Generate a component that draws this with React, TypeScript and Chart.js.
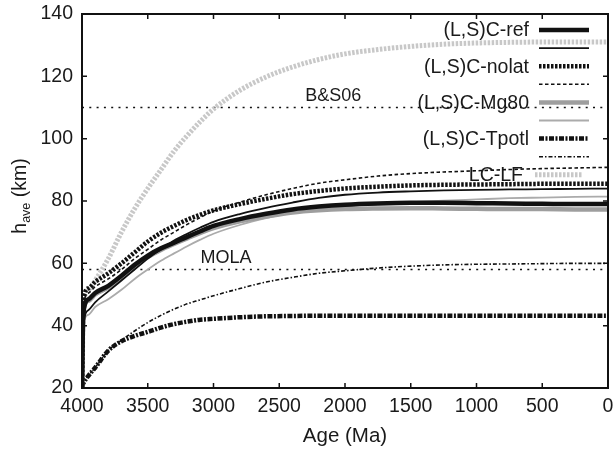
import React, { useEffect, useRef } from "react";
import { Chart, registerables } from "chart.js";
Chart.register(...registerables);

const FONT = '"Liberation Sans", Arial, Helvetica, sans-serif';

const ages = [4000, 3990, 3950, 3900, 3800, 3700, 3600, 3500, 3400, 3300, 3200, 3100, 3000, 2800, 2600, 2400, 2200, 2000, 1750, 1500, 1250, 1000, 750, 500, 250, 0];

const refThick = [20, 44, 48.5, 50.5, 52.8, 56, 59.5, 62.5, 64.8, 66.6, 68.5, 70.3, 72, 74.2, 75.9, 77.3, 78.2, 78.8, 79.2, 79.4, 79.4, 79.3, 79.2, 79.1, 79, 79];
const refThin = [20, 40, 45, 47.5, 51, 54.5, 58, 61.5, 64.5, 67.3, 69.5, 71.5, 73.3, 75.8, 77.8, 79.5, 81, 82, 82.7, 83.1, 83.4, 83.6, 83.7, 83.8, 83.9, 84];
const nolatThick = [20, 48, 52, 54, 56.8, 60, 63.5, 67, 69.8, 72, 74, 75.6, 77, 79, 80.7, 82.2, 83.2, 84, 84.6, 85, 85.2, 85.3, 85.4, 85.5, 85.5, 85.5];
const nolatThin = [20, 46, 50.5, 52.5, 55, 58, 61.5, 64.5, 67.5, 70, 72.5, 74.7, 76.8, 79.6, 82, 84, 85.7, 86.8, 88, 88.8, 89.3, 89.7, 90.1, 90.4, 90.6, 90.8];
const mg80Thick = [20, 45, 48, 50, 52.3, 55.5, 59, 62, 64.3, 66.2, 68, 69.8, 71.3, 73.5, 75, 76.3, 77, 77.4, 77.6, 77.7, 77.6, 77.5, 77.4, 77.4, 77.3, 77.3];
const mg80Thin = [20, 40, 43.5, 46, 48.5, 51.5, 55, 58, 60.8, 63.2, 65.5, 67.6, 69.5, 72.3, 74.5, 76.3, 77.5, 78.3, 79, 79.6, 80.1, 80.5, 80.9, 81.1, 81.3, 81.4];
const tpotlThick = [20.5, 21.5, 24, 26.5, 32, 35, 36.7, 38, 39.4, 40.5, 41.3, 41.9, 42.2, 42.7, 43, 43.1, 43.2, 43.2, 43.2, 43.2, 43.2, 43.2, 43.2, 43.2, 43.2, 43.2];
const tpotlThin = [20.5, 21.5, 24, 26.5, 32, 35.3, 38.3, 41, 43.3, 45.3, 47, 48.3, 49.6, 51.9, 54, 55.5, 56.8, 57.6, 58.5, 59.1, 59.5, 59.7, 59.8, 59.9, 60, 60];
const lcLf = [20, 46, 51.5, 54.5, 61.5, 70, 77.5, 84, 90, 96, 101, 105.5, 109.5, 115.5, 119.8, 123, 125.4, 127.2, 128.6, 129.6, 130.3, 130.7, 130.9, 131, 131, 131];

const refLineAges = [4000, 0];
const bs06 = [110, 110];
const mola = [58, 58];

const xTickValues = [4000, 3500, 3000, 2500, 2000, 1500, 1000, 500, 0];
const yTickValues = [20, 40, 60, 80, 100, 120, 140];

const legendLabels = ["(L,S)C-ref", "", "(L,S)C-nolat", "", "(L,S)C-Mg80", "", "(L,S)C-Tpotl", "", "LC-LF"];
const refLineLabels = ["B&S06", "MOLA"];
const refLineLabelPos = [
  { age: 2090, h: 113.7 },
  { age: 2905, h: 61.6 },
];

const pts = (xs: number[], ys: number[]) => xs.map((x, i) => ({ x, y: ys[i] }));

const seriesDefs = [
  { data: refThick, color: "#111111", width: 4.5, dash: [] as number[] },
  { data: refThin, color: "#111111", width: 1.8, dash: [] as number[] },
  { data: nolatThick, color: "#111111", width: 4.5, dash: [2.5, 1.5] },
  { data: nolatThin, color: "#111111", width: 1.6, dash: [3.5, 2.5] },
  { data: mg80Thick, color: "#9e9e9e", width: 4.5, dash: [] as number[] },
  { data: mg80Thin, color: "#ababab", width: 1.8, dash: [] as number[] },
  { data: tpotlThick, color: "#111111", width: 4.5, dash: [5, 1.5, 2, 1.5] },
  { data: tpotlThin, color: "#111111", width: 1.6, dash: [4, 2, 1.5, 2] },
  { data: lcLf, color: "#c8c8c8", width: 5, dash: [2.5, 1.5] },
];

const overlay = {
  id: "overlay",
  afterDatasetsDraw(chart: any) {
    const { ctx, chartArea: a, scales } = chart;
    const x = scales.x;
    const y = scales.y;
    ctx.save();
    ctx.strokeStyle = "#111";
    ctx.lineWidth = 1.5;
    ctx.setLineDash([]);
    const tl = 5;
    ctx.beginPath();
    for (const v of xTickValues) {
      const px = x.getPixelForValue(v);
      if (Math.abs(px - a.left) < 2 || Math.abs(px - a.right) < 2) continue;
      ctx.moveTo(px, a.bottom);
      ctx.lineTo(px, a.bottom - tl);
      ctx.moveTo(px, a.top);
      ctx.lineTo(px, a.top + tl);
    }
    for (const v of yTickValues) {
      const py = y.getPixelForValue(v);
      if (Math.abs(py - a.top) < 2 || Math.abs(py - a.bottom) < 2) continue;
      ctx.moveTo(a.left, py);
      ctx.lineTo(a.left + tl, py);
      ctx.moveTo(a.right, py);
      ctx.lineTo(a.right - tl, py);
    }
    ctx.stroke();
    ctx.lineWidth = 2;
    ctx.strokeRect(a.left, a.top, a.right - a.left, a.bottom - a.top);

    // reference line labels
    ctx.fillStyle = "#1a1a1a";
    ctx.font = `18px ${FONT}`;
    ctx.textAlign = "center";
    ctx.textBaseline = "middle";
    refLineLabels.forEach((t, i) => {
      const p = refLineLabelPos[i];
      ctx.fillText(t, x.getPixelForValue(p.age), y.getPixelForValue(p.h));
    });

    // legend
    ctx.font = `19.5px ${FONT}`;
    const rowY0 = a.top + 16;
    const rowStep = 18.1;
    legendLabels.forEach((label, i) => {
      const ds = chart.data.datasets[i];
      const last = i === legendLabels.length - 1;
      const textRight = last ? a.right - 85 : a.right - 79;
      const x1 = last ? a.right - 73 : a.right - 69;
      const x2 = last ? a.right - 25 : a.right - 19;
      const ry = rowY0 + i * rowStep;
      ctx.save();
      ctx.strokeStyle = ds.borderColor;
      ctx.lineWidth = ds.borderWidth;
      ctx.setLineDash(ds.borderDash || []);
      ctx.beginPath();
      ctx.moveTo(x1, ry);
      ctx.lineTo(x2, ry);
      ctx.stroke();
      ctx.restore();
      if (label) {
        ctx.textAlign = "right";
        ctx.fillText(label, textRight, ry + 1);
      }
    });

    // axis titles
    ctx.textAlign = "center";
    ctx.font = `20.5px ${FONT}`;
    ctx.fillText("Age (Ma)", (a.left + a.right) / 2, 436);

    ctx.save();
    ctx.translate(0, 196);
    ctx.rotate(-Math.PI / 2);
    ctx.textAlign = "left";
    ctx.textBaseline = "alphabetic";
    const mainF = `19.5px ${FONT}`;
    const subF = `12.5px ${FONT}`;
    ctx.font = mainF;
    const wH = ctx.measureText("h").width;
    const wK = ctx.measureText(" (km)").width;
    ctx.font = subF;
    const wS = ctx.measureText("ave").width;
    const total = wH + wS + wK;
    let cx = -total / 2;
    ctx.font = mainF;
    ctx.fillText("h", cx, 26);
    cx += wH;
    ctx.font = subF;
    ctx.fillText("ave", cx, 30);
    cx += wS;
    ctx.font = mainF;
    ctx.fillText(" (km)", cx, 26);
    ctx.restore();

    ctx.restore();
  },
};

export default function App() {
  const ref = useRef<HTMLCanvasElement | null>(null);
  useEffect(() => {
    if (!ref.current) return;
    const datasets: any[] = seriesDefs.map((s, i) => ({
      label: legendLabels[i] || `s${i}`,
      data: pts(ages, s.data),
      borderColor: s.color,
      backgroundColor: s.color,
      borderWidth: s.width,
      borderDash: s.dash,
      borderCapStyle: "butt",
      pointRadius: 0,
      cubicInterpolationMode: "monotone",
      fill: false,
    }));
    datasets.push({
      label: refLineLabels[0],
      data: pts(refLineAges, bs06),
      borderColor: "#111",
      borderWidth: 1.6,
      borderDash: [2, 5.3],
      pointRadius: 0,
      fill: false,
    });
    datasets.push({
      label: refLineLabels[1],
      data: pts(refLineAges, mola),
      borderColor: "#111",
      borderWidth: 1.6,
      borderDash: [2, 5.3],
      pointRadius: 0,
      fill: false,
    });
    const chart = new Chart(ref.current, {
      type: "line",
      data: { datasets },
      plugins: [overlay],
      options: {
        animation: false,
        responsive: false,
        layout: { padding: { top: 14, right: 6, left: 0, bottom: 0 } },
        plugins: { legend: { display: false }, tooltip: { enabled: false } },
        scales: {
          x: {
            type: "linear",
            min: 0,
            max: 4000,
            reverse: true,
            grid: { display: false, drawTicks: false },
            border: { display: false },
            afterBuildTicks: (s: any) => {
              s.ticks = xTickValues.map((v) => ({ value: v }));
            },
            afterFit: (s: any) => {
              s.height = 64;
              s.paddingLeft = 0;
              s.paddingRight = 0;
              s.paddingTop = 0;
              s.paddingBottom = 0;
            },
            ticks: {
              color: "#1a1a1a",
              font: { size: 19.5, family: FONT },
              padding: 7,
              maxRotation: 0,
              autoSkip: false,
              callback: (v: any) => String(v),
            },
          },
          y: {
            type: "linear",
            min: 20,
            max: 140,
            grid: { display: false, drawTicks: false },
            border: { display: false },
            afterBuildTicks: (s: any) => {
              s.ticks = yTickValues.map((v) => ({ value: v }));
            },
            afterFit: (s: any) => {
              s.width = 82;
              s.paddingLeft = 0;
              s.paddingRight = 0;
              s.paddingTop = 0;
              s.paddingBottom = 0;
            },
            ticks: {
              color: "#1a1a1a",
              font: { size: 19.5, family: FONT },
              padding: 9,
              callback: (v: any) => String(v),
            },
          },
        },
      },
    });
    return () => chart.destroy();
  }, []);
  return (
    <div style={{ position: "fixed", left: 0, top: 0, width: 614, height: 452, background: "#fff" }}>
      <canvas ref={ref} width={614} height={452} style={{ display: "block" }} />
    </div>
  );
}
